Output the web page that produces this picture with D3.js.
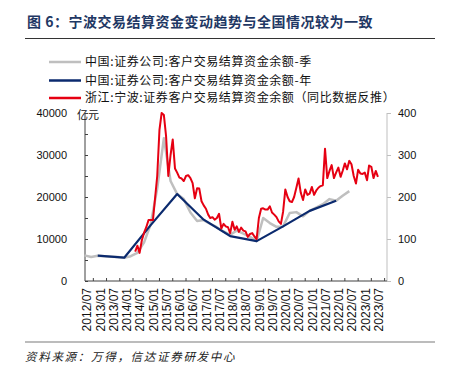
<!DOCTYPE html>
<html><head><meta charset="utf-8">
<script src="https://cdn.jsdelivr.net/npm/d3@7/dist/d3.min.js"></script>
<style>
body{margin:0;background:#fff;}
svg{display:block;}
text{font-family:"Noto Sans CJK SC","Noto Sans",sans-serif;}
.num{font-family:"Liberation Sans",Arial,sans-serif;}
</style></head>
<body><svg id="c" width="449" height="373"></svg>
<script>
// ---- data ----
const titleText = "图\u00a06：宁波交易结算资金变动趋势与全国情况较为一致";
const sourceText = "资料来源：万得，信达证券研发中心";
const legendLabels = [
  "中国:证券公司:客户交易结算资金余额-季",
  "中国:证券公司:客户交易结算资金余额-年",
  "浙江:宁波:证券客户交易结算资金余额（同比数据反推）"
];
const leftTicks = [0, 10000, 20000, 30000, 40000];
const rightTicks = [0, 100, 200, 300, 400];
const xTickLabels = ["2012/07","2013/01","2013/07","2014/01","2014/07","2015/01","2015/07","2016/01","2016/07","2017/01","2017/07","2018/01","2018/07","2019/01","2019/07","2020/01","2020/07","2021/01","2021/07","2022/01","2022/07","2023/01","2023/07"];

// national, quarterly (亿元, left axis)
const quarterDates = ["2012/06","2012/09","2012/12","2013/03","2013/06","2013/09","2013/12","2014/03","2014/06","2014/09","2014/12","2015/03","2015/06","2015/09","2015/12","2016/03","2016/06","2016/09","2016/12","2017/03","2017/06","2017/09","2017/12","2018/03","2018/06","2018/09","2018/12","2019/03","2019/06","2019/09","2019/12","2020/03","2020/06","2020/09","2020/12","2021/03","2021/06","2021/09","2021/12","2022/03","2022/06"];
const quarterValues = [6100,5700,6030,5900,5800,5700,5550,5900,6700,9200,13500,22000,34000,23800,20700,19500,16300,14300,14500,13600,12800,11800,11000,12000,11300,10500,9500,15000,13800,12900,13000,16200,16400,15400,16700,17500,18300,19500,19100,20300,21400];

// national, annual (亿元, left axis)
const annualDates = ["2012/12","2013/12","2014/12","2015/12","2016/12","2017/12","2018/12","2019/12","2020/12","2021/12"];
const annualValues = [6030,5550,13300,20700,14600,10700,9500,13000,16700,19100];

// Ningbo, monthly from 2014/05 (亿元, right axis)
const ningboStart = "2014/05";
const ningboValues = [
  70,84,67,97,115,128,145,145,              // 2014/05-12
  145,200,250,360,400,395,345,250,300,337,268,258, // 2015
  246,244,238,250,252,245,233,197,221,220,190,180, // 2016
  172,158,150,152,146,150,160,125,136,130,128,114, // 2017
  141,122,130,117,127,120,118,105,112,114,106,100, // 2018
  150,172,173,170,170,178,163,158,152,142,136,165, // 2019
  218,200,190,188,200,222,244,210,193,218,205,208, // 2020
  224,205,215,222,226,228,315,245,262,276,245,258, // 2021
  270,248,262,280,266,286,278,250,232,265,256,255, // 2022
  258,240,275,272,245,262,248                      // 2023/01-07
];

(function(){
const svg = d3.select("#c");
const parse = d3.timeParse("%Y/%m");
const pL = 85, pR = 387, pT = 113, pB = 281;

const x = d3.scaleTime()
  .domain([new Date(2012,5,8), new Date(2023,10,3)])
  .range([pL, pR]);
const yL = d3.scaleLinear().domain([0,40000]).range([pB, pT]);
const yR = d3.scaleLinear().domain([0,400]).range([pB, pT]);

// title
svg.append("text").attr("x",27).attr("y",27)
  .attr("font-size",14).attr("font-weight","bold").attr("letter-spacing",0.5)
  .attr("fill","#1F3864").text(titleText);
svg.append("line").attr("x1",25).attr("x2",435).attr("y1",38.5).attr("y2",38.5)
  .attr("stroke","#333").attr("stroke-width",1.2);

// legend
const colors = ["#BFBFBF","#0B2A6E","#E60012"];
const legY = [62, 80.5, 98];
legendLabels.forEach((lab,i)=>{
  svg.append("line").attr("x1",49).attr("x2",81).attr("y1",legY[i]).attr("y2",legY[i])
    .attr("stroke",colors[i]).attr("stroke-width",2.5);
  svg.append("text").attr("x",85).attr("y",legY[i]+4.2).attr("font-size",12)
    .attr("letter-spacing",0.6).attr("fill","#111").text(lab);
});

// axes
const gL = svg.append("g").attr("transform",`translate(${pL},0)`)
  .call(d3.axisLeft(yL).tickValues(leftTicks).tickSize(0).tickFormat(d3.format("d")));
gL.select(".domain").remove();
gL.selectAll("text").attr("class","num").attr("font-size",11).attr("fill","#111").attr("x",-18).attr("dy","0.35em");

const gLm = svg.append("g").attr("transform",`translate(${pL},0)`)
  .call(d3.axisRight(yL).tickValues(d3.range(0,40001,5000)).tickSize(3).tickFormat(""));
gLm.selectAll("line").attr("stroke","#404040");
gLm.select(".domain").attr("stroke","#404040").attr("d",`M0,${pT}V${pB}`);

const gR = svg.append("g").attr("transform",`translate(${pR},0)`)
  .call(d3.axisRight(yR).tickValues(rightTicks).tickSize(4).tickFormat(d3.format("d")));
gR.select(".domain").attr("stroke","#BFBFBF").attr("d",`M0,${pT}V${pB}`);
gR.selectAll("line").attr("stroke","#BFBFBF");
gR.selectAll("text").attr("class","num").attr("font-size",11).attr("fill","#111").attr("x",11).attr("dy","0.35em");

// "亿元"
svg.append("text").attr("x",77).attr("y",118.5).attr("font-size",11).attr("fill","#111").text("亿元");

// bottom axis
const xTickDates = xTickLabels.map(parse);
const gB = svg.append("g").attr("transform",`translate(0,${pB})`)
  .call(d3.axisBottom(x).tickValues(xTickDates).tickSize(0).tickFormat(d3.timeFormat("%Y/%m")));
gB.select(".domain").attr("stroke","#404040").attr("d",`M${pL},0H${pR}`);
gB.selectAll("text").attr("class","num").attr("font-size",12).attr("fill","#111")
  .attr("transform","rotate(-90)").attr("text-anchor","end")
  .attr("x",-7).attr("y",0).attr("dy","0.35em");
svg.append("g").selectAll("line").data(xTickDates.map(d=>d3.timeMonth.offset(d,3)))
  .join("line")
  .attr("x1",d=>x(d)).attr("x2",d=>x(d)).attr("y1",pB).attr("y2",pB-3)
  .attr("stroke","#404040");

// series
const lineL = d3.line().x(d=>x(d.date)).y(d=>yL(d.v));
const lineR = d3.line().x(d=>x(d.date)).y(d=>yR(d.v));
const qData = quarterDates.map((d,i)=>({date:parse(d), v:quarterValues[i]}));
const aData = annualDates.map((d,i)=>({date:parse(d), v:annualValues[i]}));
const s0 = parse(ningboStart);
const nData = ningboValues.map((v,i)=>({date:d3.timeMonth.offset(s0,i), v}));

svg.append("path").datum(qData).attr("d",lineL).attr("fill","none")
  .attr("stroke",colors[0]).attr("stroke-width",2.5).attr("stroke-linejoin","round");
svg.append("path").datum(aData).attr("d",lineL).attr("fill","none")
  .attr("stroke",colors[1]).attr("stroke-width",2.2).attr("stroke-linejoin","round");
svg.append("path").datum(nData).attr("d",lineR).attr("fill","none")
  .attr("stroke",colors[2]).attr("stroke-width",2).attr("stroke-linejoin","round");

// bottom rule and source
svg.append("line").attr("x1",25).attr("x2",435).attr("y1",342).attr("y2",342)
  .attr("stroke","#A6A6A6").attr("stroke-width",1.5);
svg.append("text").attr("x",25).attr("y",361).attr("font-size",11.5).attr("font-style","italic")
  .attr("letter-spacing",1.7).attr("fill","#222").text(sourceText);
})();
</script></body></html>
